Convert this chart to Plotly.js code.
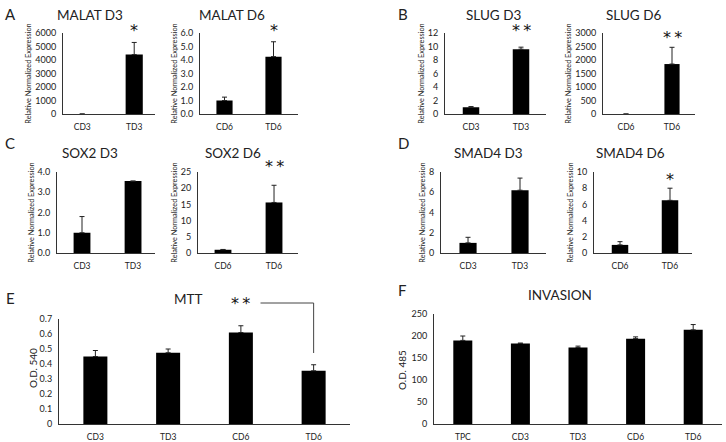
<!DOCTYPE html>
<html><head><meta charset="utf-8">
<script src="https://cdn.plot.ly/plotly-3.0.1.min.js"></script>
<style>html,body{margin:0;padding:0;background:#fff}#chart{width:726px;height:442px}</style>
</head><body><div id="chart"></div>
<script>
// ---- data ----
const malatD3Cats = ['CD3','TD3'];
const malatD3Vals = [1, 4400];
const malatD3Err  = [0, 900];
const malatD6Cats = ['CD6','TD6'];
const malatD6Vals = [1.0, 4.25];
const malatD6Err  = [0.25, 1.1];
const slugD3Cats = ['CD3','TD3'];
const slugD3Vals = [1.0, 9.6];
const slugD3Err  = [0.1, 0.3];
const slugD6Cats = ['CD6','TD6'];
const slugD6Vals = [1, 1850];
const slugD6Err  = [0, 620];
const sox2D3Cats = ['CD3','TD3'];
const sox2D3Vals = [1.0, 3.55];
const sox2D3Err  = [0.8, 0];
const sox2D6Cats = ['CD6','TD6'];
const sox2D6Vals = [1.0, 15.6];
const sox2D6Err  = [0.1, 5.3];
const smad4D3Cats = ['CD3','TD3'];
const smad4D3Vals = [1.0, 6.2];
const smad4D3Err  = [0.55, 1.2];
const smad4D6Cats = ['CD6','TD6'];
const smad4D6Vals = [1.0, 6.5];
const smad4D6Err  = [0.4, 1.5];
const mttCats = ['CD3','TD3','CD6','TD6'];
const mttVals = [0.45, 0.475, 0.61, 0.355];
const mttErr  = [0.04, 0.025, 0.045, 0.04];
const invCats = ['TPC','CD3','TD3','CD6','TD6'];
const invVals = [190, 183, 174, 194, 214];
const invErr  = [10, 1, 3, 4, 12];

const W = 726, H = 442;
const X = p => p / W;
const Y = p => 1 - p / H;
const FONT = 'Lato, "Open Sans", sans-serif';

const panels = [
  {c:malatD3Cats, v:malatD3Vals, e:malatD3Err, t:'MALAT D3', yt:'Relative Normalized Expression', px:[63,155], py:[33,114], xr:[-0.37,1.4], yr:[0,6000], dt:1000, fmt:'', tx:90, ty:15},
  {c:malatD6Cats, v:malatD6Vals, e:malatD6Err, t:'MALAT D6', yt:'Relative Normalized Expression', px:[200,298], py:[33,114], xr:[-0.5,1.5], yr:[0,6], dt:1, fmt:'.1f', tx:232, ty:15},
  {c:slugD3Cats, v:slugD3Vals, e:slugD3Err, t:'SLUG D3', yt:'Relative Normalized Expression', px:[445,546], py:[33,114], xr:[-0.52,1.5], yr:[0,12], dt:2, fmt:'', tx:493, ty:15},
  {c:slugD6Cats, v:slugD6Vals, e:slugD6Err, t:'SLUG D6', yt:'Relative Normalized Expression', px:[603,695], py:[33,114], xr:[-0.5,1.5], yr:[0,3000], dt:500, fmt:'', tx:633, ty:15},
  {c:sox2D3Cats, v:sox2D3Vals, e:sox2D3Err, t:'SOX2 D3', yt:'Relative Normalized Expression', px:[57,155], py:[172,253], xr:[-0.49,1.43], yr:[0,4], dt:1, fmt:'.1f', tx:90, ty:153},
  {c:sox2D6Cats, v:sox2D6Vals, e:sox2D6Err, t:'SOX2 D6', yt:'Relative Normalized Expression', px:[198,298], py:[172,253], xr:[-0.49,1.47], yr:[0,25], dt:5, fmt:'', tx:233, ty:153},
  {c:smad4D3Cats, v:smad4D3Vals, e:smad4D3Err, t:'SMAD4 D3', yt:'Relative Normalized Expression', px:[441,546], py:[172,253], xr:[-0.52,1.5], yr:[0,8], dt:2, fmt:'', tx:488, ty:153},
  {c:smad4D6Cats, v:smad4D6Vals, e:smad4D6Err, t:'SMAD4 D6', yt:'Relative Normalized Expression', px:[594,692], py:[172,253], xr:[-0.52,1.44], yr:[0,10], dt:2, fmt:'', tx:630, ty:153},
  {c:mttCats, v:mttVals, e:mttErr, t:'MTT', yt:'O.D. 540', px:[59,350], py:[319,424], xr:[-0.5,3.5], yr:[0,0.7], dt:0.1, fmt:'', tx:188, ty:299, big:true, ytx:33, yty:368},
  {c:invCats, v:invVals, e:invErr, t:'INVASION', yt:'O.D. 485', px:[434,722], py:[314,424], xr:[-0.5,4.5], yr:[0,250], dt:50, fmt:'', tx:560, ty:295, big:true, ytx:402, yty:370}
];

const data = [];
const layout = {
  width: W, height: H, margin:{l:0,r:0,t:0,b:0},
  paper_bgcolor:'#fff', plot_bgcolor:'#fff', showlegend:false,
  font:{family:FONT, color:'#222'},
  annotations:[], shapes:[]
};

panels.forEach((p, i) => {
  const n = i + 1;
  const xa = 'x' + (n === 1 ? '' : n), ya = 'y' + (n === 1 ? '' : n);
  const xk = 'xaxis' + (n === 1 ? '' : n), yk = 'yaxis' + (n === 1 ? '' : n);
  data.push({
    type:'bar', x:p.c, y:p.v, xaxis:xa, yaxis:ya, width:0.33,
    marker:{color:'#000'},
    error_y:{type:'data', array:p.e, arrayminus:p.e.map(()=>0), symmetric:false, color:'#222', thickness:1, width:2.5}
  });
  layout[xk] = {
    domain:[X(p.px[0]), X(p.px[1])], anchor:ya, type:'category', range:p.xr,
    showline:true, linecolor:'#333', linewidth:1, showgrid:false, zeroline:false,
    ticks:'outside', ticklen:5, tickcolor:'rgba(0,0,0,0)',
    tickfont:{size: 8.5, family:FONT, color:'#222'}, fixedrange:true
  };
  layout[yk] = {
    domain:[Y(p.py[1]), Y(p.py[0])], anchor:xa, range:p.yr, dtick:p.dt, tick0:0,
    tickformat:p.fmt, showline:true, linecolor:'#333', linewidth:1, showgrid:false, zeroline:false,
    ticks:'outside', ticklen:4, tickcolor:'rgba(0,0,0,0)',
    tickfont:{size: 9, family:FONT, color:'#222'},
    fixedrange:true
  };
  if (p.big) {
    layout.annotations.push({xref:'paper', yref:'paper', x:X(p.ytx), y:Y(p.yty), text:p.yt, textangle:-90,
      showarrow:false, xanchor:'center', yanchor:'middle', font:{size:10, family:FONT, color:'#222'}});
  } else {
    layout[yk].title = {text:p.yt, font:{size:7.3, family:FONT, color:'#222'}, standoff:2};
  }
  layout.annotations.push({
    xref:'paper', yref:'paper', x:X(p.tx), y:Y(p.ty), text:p.t, showarrow:false,
    xanchor:'center', yanchor:'middle', font:{size:13.5, family:FONT, color:'#222'}
  });
});

// panel letters
[['A',10,14],['B',403,14],['C',10,143],['D',403,143],['E',10,298],['F',402,290]].forEach(l => {
  layout.annotations.push({xref:'paper', yref:'paper', x:X(l[1]), y:Y(l[2]), text:l[0], showarrow:false,
    xanchor:'center', yanchor:'middle', font:{size:15, family:FONT, color:'#222'}});
});

// significance stars
const two = '*\u2009*';
[['x','TD3','*',133,31],['x2','TD6','*',274,31],['x3','TD3',two,521,31],['x4','TD6',two,672,37],
 ['x6','TD6',two,274,166],['x8','TD6','*',670,179],['x9','CD6',two,242,303]].forEach(s => {
  layout.annotations.push({xref:s[0], yref:'paper', x:s[1], y:Y(s[4]), text:s[2], showarrow:false,
    xanchor:'center', yanchor:'middle', font:{size:16, family:'"DejaVu Sans", sans-serif', color:'#111'}});
});

// MTT bracket
layout.shapes.push({type:'line', xref:'x9', yref:'paper', x0:2.27, x1:3, y0:Y(303), y1:Y(303), line:{color:'#444', width:1}});
layout.shapes.push({type:'line', xref:'x9', yref:'paper', x0:3, x1:3, y0:Y(303), y1:Y(353), line:{color:'#444', width:1}});

Plotly.newPlot('chart', data, layout, {displayModeBar:false, staticPlot:true});
</script>
</body></html>
